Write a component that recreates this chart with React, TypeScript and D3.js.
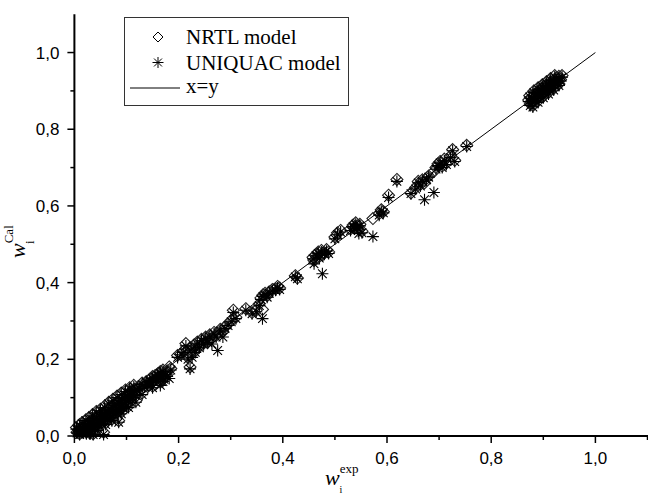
import React from "react";
import * as d3 from "d3";

// experimental mass fractions and model-calculated values
const wExp = [
  0.005, 0.008, 0.010, 0.012, 0.014, 0.016, 0.018, 0.020, 0.021, 0.023,
  0.025, 0.027, 0.029, 0.030, 0.032, 0.034, 0.036, 0.036, 0.038, 0.040,
  0.042, 0.044, 0.046, 0.048, 0.050, 0.052, 0.054, 0.056, 0.056, 0.058,
  0.060, 0.062, 0.064, 0.066, 0.068, 0.070, 0.072, 0.074, 0.076, 0.078,
  0.080, 0.082, 0.084, 0.085, 0.086, 0.088, 0.090, 0.092, 0.094, 0.096,
  0.098, 0.100, 0.102, 0.104, 0.106, 0.108, 0.110, 0.112, 0.115, 0.118,
  0.120, 0.125, 0.130, 0.135, 0.138, 0.140, 0.145, 0.148, 0.150, 0.152,
  0.155, 0.158, 0.160, 0.162, 0.165, 0.165, 0.168, 0.170, 0.172, 0.175,
  0.178, 0.182, 0.185, 0.198, 0.205, 0.210, 0.214, 0.218, 0.222, 0.224,
  0.226, 0.230, 0.232, 0.236, 0.240, 0.244, 0.248, 0.252, 0.256, 0.260,
  0.264, 0.268, 0.272, 0.275, 0.280, 0.285, 0.289, 0.295, 0.301, 0.305,
  0.310, 0.329, 0.341, 0.349, 0.355, 0.358, 0.361, 0.362, 0.366, 0.370,
  0.374, 0.380, 0.386, 0.390, 0.394, 0.424, 0.428, 0.458, 0.460, 0.464,
  0.468, 0.470, 0.474, 0.476, 0.480, 0.484, 0.488, 0.500, 0.505, 0.511,
  0.530, 0.535, 0.538, 0.540, 0.543, 0.546, 0.548, 0.552, 0.573, 0.585,
  0.589, 0.593, 0.603, 0.619, 0.646, 0.655, 0.660, 0.664, 0.668, 0.672,
  0.676, 0.680, 0.690, 0.694, 0.698, 0.702, 0.706, 0.710, 0.714, 0.722,
  0.726, 0.730, 0.753, 0.872, 0.875, 0.878, 0.880, 0.883, 0.885, 0.888,
  0.890, 0.892, 0.894, 0.896, 0.898, 0.900, 0.902, 0.905, 0.907, 0.910,
  0.912, 0.915, 0.917, 0.920, 0.922, 0.925, 0.928, 0.930, 0.933, 0.936,
  0.004, 0.010, 0.015, 0.022, 0.028, 0.035, 0.042, 0.050, 0.058, 0.066,
  0.074, 0.082, 0.090, 0.098, 0.106, 0.114, 0.030, 0.044, 0.060, 0.072,
  0.090, 0.104, 0.118, 0.130, 0.150, 0.170, 0.874, 0.882, 0.890, 0.898,
  0.906, 0.914, 0.922, 0.880, 0.890, 0.900, 0.910, 0.920, 0.930,
];
const wNrtl = [
  0.010, 0.015, 0.006, 0.020, 0.010, 0.024, 0.014, 0.028, 0.018, 0.010,
  0.032, 0.022, 0.015, 0.038, 0.027, 0.020, 0.006, 0.044, 0.033, 0.025,
  0.050, 0.038, 0.030, 0.055, 0.044, 0.035, 0.060, 0.010, 0.048, 0.040,
  0.066, 0.055, 0.046, 0.072, 0.060, 0.052, 0.078, 0.066, 0.058, 0.084,
  0.072, 0.064, 0.090, 0.040, 0.078, 0.070, 0.096, 0.084, 0.076, 0.102,
  0.090, 0.082, 0.108, 0.096, 0.112, 0.100, 0.118, 0.104, 0.122, 0.110,
  0.125, 0.128, 0.138, 0.132, 0.142, 0.136, 0.148, 0.140, 0.155, 0.146,
  0.158, 0.150, 0.162, 0.155, 0.168, 0.140, 0.160, 0.172, 0.152, 0.165,
  0.170, 0.180, 0.176, 0.210, 0.215, 0.222, 0.241, 0.205, 0.180, 0.230,
  0.215, 0.238, 0.222, 0.245, 0.235, 0.252, 0.242, 0.258, 0.248, 0.264,
  0.255, 0.270, 0.262, 0.268, 0.278, 0.272, 0.285, 0.292, 0.302, 0.328,
  0.310, 0.332, 0.322, 0.328, 0.345, 0.360, 0.330, 0.368, 0.372, 0.366,
  0.376, 0.382, 0.384, 0.390, 0.386, 0.418, 0.412, 0.466, 0.458, 0.474,
  0.480, 0.468, 0.484, 0.472, 0.478, 0.486, 0.480, 0.519, 0.530, 0.536,
  0.540, 0.550, 0.544, 0.556, 0.548, 0.538, 0.552, 0.534, 0.567, 0.580,
  0.590, 0.585, 0.628, 0.669, 0.634, 0.648, 0.664, 0.656, 0.668, 0.660,
  0.672, 0.678, 0.690, 0.700, 0.710, 0.716, 0.704, 0.722, 0.712, 0.730,
  0.747, 0.719, 0.758, 0.876, 0.866, 0.884, 0.872, 0.890, 0.878, 0.896,
  0.884, 0.900, 0.888, 0.904, 0.894, 0.910, 0.898, 0.914, 0.904, 0.918,
  0.908, 0.922, 0.912, 0.928, 0.918, 0.934, 0.924, 0.938, 0.930, 0.940,
  0.022, 0.030, 0.035, 0.042, 0.048, 0.056, 0.064, 0.070, 0.078, 0.088,
  0.096, 0.104, 0.112, 0.120, 0.126, 0.132, 0.008, 0.018, 0.034, 0.044,
  0.062, 0.078, 0.092, 0.112, 0.130, 0.148, 0.888, 0.900, 0.908, 0.916,
  0.924, 0.932, 0.940, 0.862, 0.874, 0.886, 0.896, 0.906, 0.918,
];
const wUniquac = [
  0.008, 0.012, 0.004, 0.016, 0.012, 0.020, 0.010, 0.025, 0.015, 0.006,
  0.030, 0.020, 0.012, 0.034, 0.025, 0.016, 0.004, 0.040, 0.030, 0.022,
  0.046, 0.036, 0.028, 0.052, 0.040, 0.032, 0.056, 0.004, 0.046, 0.038,
  0.062, 0.052, 0.044, 0.068, 0.058, 0.048, 0.075, 0.062, 0.054, 0.080,
  0.070, 0.060, 0.086, 0.036, 0.075, 0.066, 0.092, 0.080, 0.072, 0.098,
  0.086, 0.078, 0.104, 0.094, 0.108, 0.096, 0.114, 0.100, 0.118, 0.106,
  0.120, 0.124, 0.134, 0.128, 0.140, 0.132, 0.144, 0.136, 0.150, 0.142,
  0.154, 0.146, 0.158, 0.150, 0.164, 0.132, 0.156, 0.168, 0.148, 0.160,
  0.155, 0.150, 0.172, 0.205, 0.212, 0.218, 0.235, 0.200, 0.175, 0.224,
  0.205, 0.232, 0.218, 0.240, 0.230, 0.248, 0.238, 0.254, 0.244, 0.258,
  0.240, 0.266, 0.258, 0.223, 0.274, 0.258, 0.280, 0.288, 0.298, 0.322,
  0.306, 0.328, 0.319, 0.324, 0.340, 0.356, 0.306, 0.364, 0.368, 0.362,
  0.372, 0.378, 0.380, 0.386, 0.382, 0.415, 0.410, 0.462, 0.449, 0.470,
  0.476, 0.464, 0.480, 0.423, 0.474, 0.482, 0.476, 0.514, 0.525, 0.532,
  0.536, 0.546, 0.540, 0.552, 0.544, 0.528, 0.548, 0.530, 0.520, 0.576,
  0.586, 0.582, 0.622, 0.664, 0.632, 0.644, 0.660, 0.652, 0.664, 0.616,
  0.668, 0.675, 0.635, 0.696, 0.705, 0.712, 0.700, 0.718, 0.708, 0.726,
  0.744, 0.716, 0.755, 0.872, 0.862, 0.880, 0.868, 0.886, 0.874, 0.892,
  0.880, 0.896, 0.884, 0.900, 0.890, 0.906, 0.895, 0.910, 0.900, 0.914,
  0.904, 0.918, 0.908, 0.924, 0.914, 0.930, 0.920, 0.934, 0.926, 0.936,
  0.018, 0.026, 0.032, 0.040, 0.044, 0.052, 0.060, 0.066, 0.074, 0.084,
  0.092, 0.100, 0.108, 0.116, 0.122, 0.128, 0.005, 0.014, 0.030, 0.040,
  0.058, 0.074, 0.088, 0.108, 0.126, 0.142, 0.884, 0.896, 0.904, 0.912,
  0.920, 0.928, 0.936, 0.858, 0.870, 0.882, 0.892, 0.902, 0.914,
];

const majorTicks = [0, 0.2, 0.4, 0.6, 0.8, 1.0];
const minorTicks = [0.1, 0.3, 0.5, 0.7, 0.9];
const xMinorExtra = [1.1];
const tickLabels = ["0,0", "0,2", "0,4", "0,6", "0,8", "1,0"];
const identityLine = [0, 1];
const legendLabels = ["NRTL model", "UNIQUAC model", "x=y"];

const W = 648;
const H = 494;
const x = d3.scaleLinear().domain([0, 1.1]).range([74.4, 647.5]);
const y = d3.scaleLinear().domain([0, 1.1]).range([436, 14.2]);

const diamondPath = (cx: number, cy: number, r: number) =>
  `M${cx},${cy - r}L${cx + r},${cy}L${cx},${cy + r}L${cx - r},${cy}Z`;

const starPath = (cx: number, cy: number, r: number) => {
  const d = r * 0.72;
  return (
    `M${cx},${cy - r}L${cx},${cy + r}` +
    `M${cx - r},${cy}L${cx + r},${cy}` +
    `M${cx - d},${cy - d}L${cx + d},${cy + d}` +
    `M${cx - d},${cy + d}L${cx + d},${cy - d}`
  );
};

export default function App() {
  const line = d3
    .line<number>()
    .x((v) => x(v))
    .y((v) => y(v));

  const sans = "'Liberation Sans', Arial, sans-serif";
  const serif = "'Liberation Serif', 'Times New Roman', serif";

  return (
    <svg
      width={W}
      height={H}
      style={{ position: "absolute", left: 0, top: 0, background: "#fff" }}
    >
      <rect x={0} y={0} width={W} height={H} fill="#fff" />

      {/* x=y line */}
      <path d={line(identityLine) || ""} stroke="#000" strokeWidth={1} fill="none" />

      {/* NRTL diamonds */}
      <g fill="none" stroke="#222" strokeWidth={1.1}>
        {wExp.map((v, i) => (
          <path key={"n" + i} d={diamondPath(x(v), y(wNrtl[i]), 6)} />
        ))}
      </g>
      {/* UNIQUAC stars */}
      <g fill="none" stroke="#000" strokeWidth={1.1}>
        {wExp.map((v, i) => (
          <path key={"u" + i} d={starPath(x(v), y(wUniquac[i]), 6)} />
        ))}
      </g>

      {/* axes */}
      <g stroke="#000" strokeWidth={2}>
        <line x1={x(0)} x2={x(0)} y1={y(0) + 1} y2={y(1.1)} />
        <line x1={x(0) - 1} x2={W} y1={y(0)} y2={y(0)} />
      </g>
      <g stroke="#000" strokeWidth={1.5}>
        {majorTicks.map((t) => (
          <line key={"xM" + t} x1={x(t)} x2={x(t)} y1={y(0)} y2={y(0) + 7} />
        ))}
        {minorTicks.concat(xMinorExtra).map((t) => (
          <line key={"xm" + t} x1={x(t)} x2={x(t)} y1={y(0)} y2={y(0) + 4} />
        ))}
        {majorTicks.map((t) => (
          <line key={"yM" + t} x1={x(0) - 7} x2={x(0)} y1={y(t)} y2={y(t)} />
        ))}
        {minorTicks.map((t) => (
          <line key={"ym" + t} x1={x(0) - 4} x2={x(0)} y1={y(t)} y2={y(t)} />
        ))}
      </g>
      <g fontFamily={sans} fontSize={17} fill="#000">
        {majorTicks.map((t, i) => (
          <text key={"xl" + t} x={x(t)} y={y(0) + 28} textAnchor="middle">
            {tickLabels[i]}
          </text>
        ))}
        {majorTicks.map((t, i) => (
          <text key={"yl" + t} x={x(0) - 15} y={y(t) + 6} textAnchor="end">
            {tickLabels[i]}
          </text>
        ))}
      </g>

      {/* axis titles */}
      <text x={325} y={485} fontFamily={serif} fill="#000">
        <tspan fontSize={22} fontStyle="italic">w</tspan>
        <tspan fontSize={13} dy={-12}>exp</tspan>
        <tspan fontSize={10} x={339.5} y={493}>i</tspan>
      </text>

      <g transform="translate(25,258) rotate(-90)">
        <text x={0} y={0} fontFamily={serif} fill="#000">
          <tspan fontSize={22} fontStyle="italic">w</tspan>
          <tspan fontSize={13} dy={-12}>Cal</tspan>
          <tspan fontSize={13} x={14} y={9}>i</tspan>
        </text>
      </g>

      {/* legend */}
      <rect x={124.5} y={17.5} width={224} height={88} fill="#fff" stroke="#333" strokeWidth={1} />
      <path d={diamondPath(158, 37, 5)} fill="none" stroke="#000" strokeWidth={1} />
      <path d={starPath(158, 62.5, 5.5)} fill="none" stroke="#000" strokeWidth={1} />
      <line x1={130} x2={180} y1={88} y2={88} stroke="#000" strokeWidth={1} />
      <g fontFamily={serif} fontSize={21} fill="#000">
        <text x={186} y={44}>{legendLabels[0]}</text>
        <text x={186} y={69.5}>{legendLabels[1]}</text>
        <text x={186} y={93}>{legendLabels[2]}</text>
      </g>
    </svg>
  );
}
